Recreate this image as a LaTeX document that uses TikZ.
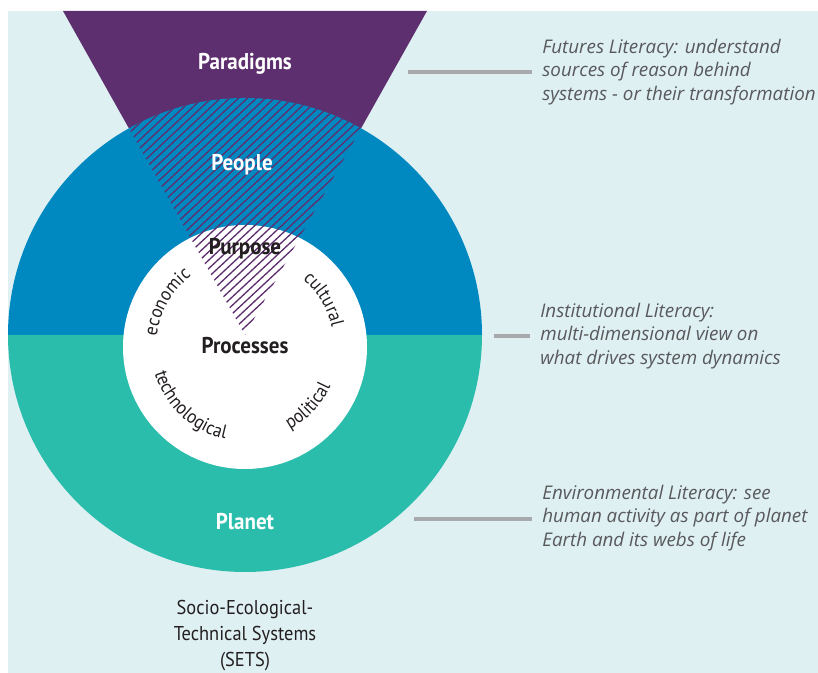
\documentclass[tikz,border=0pt]{standalone}
\usepackage{fontspec}
\setmainfont{PT Sans}[FakeStretch=0.92]
\newfontfamily\notefont{Open Sans}
\usetikzlibrary{decorations.text}
\definecolor{panelbg}{RGB}{223,240,243}
\definecolor{peopleblue}{RGB}{0,136,192}
\definecolor{planetteal}{RGB}{43,189,172}
\definecolor{paradigmpurple}{RGB}{94,47,110}
\definecolor{leadergray}{RGB}{167,169,172}
\definecolor{notegray}{RGB}{88,89,91}
\definecolor{labelblack}{RGB}{35,31,32}
\newcommand{\ringfont}{\fontsize{10.8pt}{12pt}\selectfont}
\tikzset{
	lbl/.style={font=\fontsize{13pt}{15pt}\selectfont\bfseries, inner sep=0pt},
	note/.style={font=\notefont\fontsize{10.7pt}{13.4pt}\selectfont\itshape, text=notegray, align=left, anchor=west, inner sep=0pt},
	leader/.style={draw=leadergray, line width=2pt, shorten >=0.2cm},
	hatch/.style={draw=paradigmpurple, line width=0.75pt},
	ringtext/.style={decorate, decoration={text along path, text align=center, text color=labelblack, text={|\ringfont|#1}}}
}
\begin{document}
\begin{tikzpicture}
	\useasboundingbox (0.00,0.00) rectangle (16.36,13.46);
	\fill[panelbg] (0.16,0.00) rectangle (16.36,13.24);
	% wedge and rings
	\fill[paradigmpurple] (1.26,13.24) -- (8.54,13.24) -- (4.90,6.76) -- cycle;
	\fill[peopleblue] (0.16,6.76) arc (180:0:4.74) -- cycle;
	\fill[planetteal] (0.16,6.76) arc (180:360:4.74) -- cycle;
	\fill[white] (4.90,6.52) circle (2.44);
	\begin{scope}
		\clip (1.26,13.24) -- (8.54,13.24) -- (4.90,6.76) -- cycle;
		\clip (4.90,6.76) circle (4.74);
		\foreach \k in {-76,...,6}
			\draw[hatch] (\k*0.18,0.00) -- ++(43:18);
	\end{scope}
	% labels
	\node[lbl, text=white] (paradigms) at (4.90,12.18) {Paradigms};
	\node[lbl, text=white] (people) at (4.84,10.16) {People};
	\node[lbl, text=labelblack] (purpose) at (4.90,8.48) {Purpose};
	\node[lbl, text=labelblack] (processes) at (4.90,6.54) {Processes};
	\node[lbl, text=white] (planet) at (4.90,3.02) {Planet};
	\node[font=\fontsize{11.4pt}{14.8pt}\selectfont, text=labelblack, align=center, inner sep=0pt] (sets) at (4.90,0.74) {Socio-Ecological-\\Technical Systems\\(SETS)};
	\path[ringtext=economic] (4.90,6.52) ++(185:1.78) arc (185:115:1.78);
	\path[ringtext=cultural] (4.90,6.52) ++(66:1.78) arc (66:-4:1.78);
	\path[ringtext=technological] (4.90,6.52) ++(192:1.88) arc (192:262:1.88);
	\path[ringtext=political] (4.90,6.52) ++(282:1.88) arc (282:352:1.88);
	% notes
	\node[note] (futures) at (10.84,12.02) {Futures Literacy: understand\\sources of reason behind\\systems - or their transformation};
	\node[note] (institutional) at (10.80,6.74) {Institutional Literacy:\\multi-dimensional view on\\what drives system dynamics};
	\node[note] (environmental) at (10.84,3.10) {Environmental Literacy: see\\human activity as part of planet\\Earth and its webs of life};
	\coordinate (futuresend) at (8.16,12.02);
	\coordinate (institutionalend) at (9.88,6.74);
	\coordinate (environmentalend) at (8.28,3.08);
	\draw[leader] (futuresend) -- (futuresend -| futures.west);
	\draw[leader] (institutionalend) -- (institutionalend -| institutional.west);
	\draw[leader] (environmentalend) -- (environmentalend -| environmental.west);
\end{tikzpicture}
\end{document}
